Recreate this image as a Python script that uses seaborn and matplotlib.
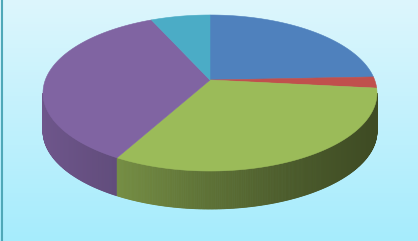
import numpy as np
import matplotlib
matplotlib.use("Agg")
import matplotlib.pyplot as plt
import seaborn as sns
from matplotlib.patches import Polygon

sns.set_style("white")

# data
categories = ["A", "B", "C", "D", "E"]
values = [21.7, 2.3, 35.4, 34.9, 5.7]
colors = ["#4f81bd", "#c0504d", "#9bbb59", "#8064a2", "#4bacc6"]

W, H = 418, 241
fig = plt.figure(figsize=(W / 100, H / 100), dpi=100)
ax = fig.add_axes([0, 0, 1, 1])
ax.set_xlim(0, W)
ax.set_ylim(H, 0)
ax.axis("off")

# background gradient
top = np.array([221, 246, 252]) / 255
bot = np.array([166, 236, 253]) / 255
t = np.linspace(0, 1, 256)[:, None]
grad = top[None, :] * (1 - t) + bot[None, :] * t
ax.imshow(grad[:, None, :], extent=[0, W, H, 0], aspect="auto", zorder=0)
ax.plot([1.5, 1.5], [0, H], color="#4fa8b8", lw=1.5, zorder=1)

cx, cy, rx, ry = 210.0, 93.0, 167.0, 78.0
apx, apy = 210.0, 80.0
depth = 38.0

fracs = np.array(values) / np.sum(values)
bounds = 90 - 360 * np.concatenate([[0], np.cumsum(fracs)])  # degrees, clockwise


def pt(th):
    r = np.deg2rad(th)
    return cx + rx * np.cos(r), cy - ry * np.sin(r)


def slice_at(th):
    th = th % 360
    for i in range(len(values)):
        a, b = bounds[i], bounds[i + 1]
        aa = a % 360
        span = a - b
        d = (aa - th) % 360
        if d <= span:
            return i
    return 0


shx = [43, 117, 200, 290, 376]
shf = [0.86, 0.76, 0.62, 0.49, 0.40]

# side walls (front half)
N = 400
ths = np.linspace(180, 360, N + 1)
for j in range(N):
    t0, t1 = ths[j], ths[j + 1]
    tm = 0.5 * (t0 + t1)
    i = slice_at(tm)
    x0, y0 = pt(t0)
    x1, y1 = pt(t1)
    f = np.interp(0.5 * (x0 + x1), shx, shf)
    base = np.array(matplotlib.colors.to_rgb(colors[i]))
    c = np.clip(base * f, 0, 1)
    poly = Polygon([(x0, y0), (x1, y1), (x1, y1 + depth), (x0, y0 + depth)],
                   closed=True, facecolor=c, edgecolor=c, lw=0.6, zorder=2)
    ax.add_patch(poly)

# top slices
for i in range(len(values)):
    a, b = bounds[i], bounds[i + 1]
    th = np.linspace(a, b, 200)
    pts = [pt(x) for x in th]
    verts = [(apx, apy)] + pts
    poly = Polygon(verts, closed=True, facecolor=colors[i], edgecolor=colors[i],
                   lw=0.4, zorder=3)
    ax.add_patch(poly)

fig.savefig("out.png", dpi=100)
